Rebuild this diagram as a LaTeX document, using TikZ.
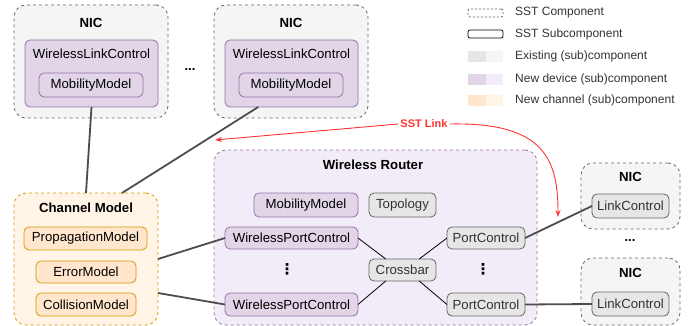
\documentclass[tikz,border=0pt]{standalone}
\usepackage{fontspec}
\setmainfont{Liberation Sans}
\newfontfamily\dejavufont{DejaVu Sans}
\usetikzlibrary{arrows.meta,calc}
\definecolor{cgrayd}{HTML}{666666}
\definecolor{cgrays}{HTML}{E6E6E6}
\definecolor{cgrayc}{HTML}{F5F5F5}
\definecolor{cpurd}{HTML}{9673A6}
\definecolor{cpurs}{HTML}{E1D5E7}
\definecolor{cpurc}{HTML}{F2ECF8}
\definecolor{corad}{HTML}{D79B00}
\definecolor{coras}{HTML}{FFE6CC}
\definecolor{corac}{HTML}{FFF4E6}
\definecolor{ctext}{HTML}{333333}
\definecolor{cline}{HTML}{4D4D4D}
\definecolor{cred}{HTML}{FF3333}
\tikzset{
  box/.style={rounded corners=5pt, line width=0.8pt, inner sep=0pt, outer sep=0pt},
  subgray/.style={box, draw=cgrayd, fill=cgrays},
  subpurp/.style={box, draw=cpurd, fill=cpurs},
  suborange/.style={box, draw=corad, fill=coras},
  compbox/.style={rounded corners=12pt, line width=0.8pt, dash pattern=on 3pt off 3pt, inner sep=0pt, outer sep=0pt},
  compgray/.style={compbox, draw=cgrayd, fill=cgrayc},
  comppurp/.style={compbox, draw=cpurd, fill=cpurc},
  comporange/.style={compbox, draw=corad, fill=corac},
  lbl/.style={inner sep=0pt, font=\fontsize{13.2}{15}\selectfont},
  glbl/.style={lbl, text=ctext},
  ttl/.style={inner sep=0pt, font=\bfseries\fontsize{13.2}{15}\selectfont},
  vdotsnode/.style={inner sep=0pt, font=\dejavufont\bfseries\fontsize{15}{17}\selectfont},
  leg/.style={inner sep=0pt, anchor=west, font=\fontsize{12}{14}\selectfont, text=ctext},
  conn/.style={draw=cline, line width=1.8pt},
  thin/.style={draw=black, line width=0.8pt},
  redarrow/.style={draw=cred, line width=0.9pt, -{Stealth[length=7pt,width=5pt]}},
}
\begin{document}
\begin{tikzpicture}[x=1pt,y=-1pt]
\useasboundingbox (0,0) rectangle (693,326);
% ---------- NIC 1 ----------
\node[compgray, minimum width=154pt, minimum height=113pt] (nic1) at (91,61.5) {};
\node[ttl] (nic1t) at (91,23) {NIC};
\node[subpurp, minimum width=133pt, minimum height=67pt] (wlc1) at (91.5,73.5) {};
\node[lbl] (wlc1t) at (91.5,54) {WirelessLinkControl};
\node[subpurp, minimum width=104pt, minimum height=24pt] (mm1) at (91,85) {};
\node[lbl] (mm1t) at (mm1) {MobilityModel};
\node[ttl] (dots1) at (190,70) {...};
% ---------- NIC 2 ----------
\node[compgray, minimum width=154pt, minimum height=113pt] (nic2) at (291,61.5) {};
\node[ttl] (nic2t) at (291,23) {NIC};
\node[subpurp, minimum width=133pt, minimum height=67pt] (wlc2) at (291.5,73.5) {};
\node[lbl] (wlc2t) at (291.5,54) {WirelessLinkControl};
\node[subpurp, minimum width=104pt, minimum height=24pt] (mm2) at (291,85) {};
\node[lbl] (mm2t) at (mm2) {MobilityModel};
% ---------- Legend ----------
\node[box, rounded corners=2pt, draw=cgrayd, dash pattern=on 2pt off 2pt, minimum width=35pt, minimum height=8pt] (lg1) at (485.5,13) {};
\node[leg] (lg1t) at (515,13) {SST Component};
\node[box, rounded corners=2pt, draw=black, line width=0.7pt, minimum width=35pt, minimum height=8pt] (lg2) at (485.5,34) {};
\node[leg] (lg2t) at (515,34) {SST Subcomponent};
\fill[cgrays] (468,51) rectangle (486,62);
\fill[cgrayc] (486,51) rectangle (503,62);
\node[leg] (lg3t) at (515,56.5) {Existing (sub)component};
\fill[cpurs] (468,74) rectangle (486,85);
\fill[cpurc] (486,74) rectangle (503,85);
\node[leg] (lg4t) at (515,79.5) {New device (sub)component};
\fill[coras] (468,95) rectangle (486,106);
\fill[corac] (486,95) rectangle (503,106);
\node[leg] (lg5t) at (515,100.5) {New channel (sub)component};
% ---------- Channel Model ----------
\node[comporange, minimum width=144pt, minimum height=132pt] (cm) at (86,259) {};
\node[ttl] (cmt) at (86,208) {Channel Model};
\node[suborange, minimum width=123pt, minimum height=23pt] (prop) at (85.5,238.5) {};
\node[lbl] (propt) at (prop) {PropagationModel};
\node[suborange, minimum width=100pt, minimum height=22pt] (err) at (86,272) {};
\node[lbl] (errt) at (err) {ErrorModel};
\node[suborange, minimum width=100pt, minimum height=23pt] (coll) at (86,304.5) {};
\node[lbl] (collt) at (coll) {CollisionModel};
% ---------- Wireless Router ----------
\node[comppurp, minimum width=323pt, minimum height=175pt] (wr) at (375.5,237.5) {};
\node[ttl] (wrt) at (373,165) {Wireless Router};
\node[subpurp, minimum width=104pt, minimum height=24pt] (wmm) at (306,205) {};
\node[lbl] (wmmt) at (wmm) {MobilityModel};
\node[subgray, minimum width=67pt, minimum height=24pt] (topo) at (402.5,205) {};
\node[glbl] (topot) at (topo) {Topology};
\node[subpurp, minimum width=133pt, minimum height=22pt] (wpc1) at (291.5,238) {};
\node[lbl] (wpc1t) at (wpc1) {WirelessPortControl};
\node[subpurp, minimum width=133pt, minimum height=23pt] (wpc2) at (291.5,304.5) {};
\node[lbl] (wpc2t) at (wpc2) {WirelessPortControl};
\node[subgray, minimum width=67pt, minimum height=22pt] (xbar) at (402.5,270) {};
\node[glbl] (xbart) at (xbar) {Crossbar};
\node[subgray, minimum width=78pt, minimum height=22pt] (pc1) at (486,238) {};
\node[glbl] (pc1t) at (pc1) {PortControl};
\node[subgray, minimum width=78pt, minimum height=23pt] (pc2) at (486,304.5) {};
\node[glbl] (pc2t) at (pc2) {PortControl};
\node[vdotsnode] (vd1) at (287,269) {⋮};
\node[vdotsnode] (vd2) at (483,269) {⋮};
% ---------- Right NICs ----------
\node[compgray, minimum width=99pt, minimum height=66pt] (nic3) at (630.5,196) {};
\node[ttl] (nic3t) at (630.5,177) {NIC};
\node[subgray, minimum width=77pt, minimum height=24pt] (lc1) at (630.5,206) {};
\node[glbl] (lc1t) at (lc1) {LinkControl};
\node[ttl] (dots2) at (630,241) {...};
\node[compgray, minimum width=99pt, minimum height=67pt] (nic4) at (630.5,291.5) {};
\node[ttl] (nic4t) at (630.5,273) {NIC};
\node[subgray, minimum width=77pt, minimum height=24pt] (lc2) at (630.5,304) {};
\node[glbl] (lc2t) at (lc2) {LinkControl};
% ---------- Connectors ----------
\draw[conn] (wlc1.south) -- (cm.north);
\draw[conn] ($(wlc2.south west)!0.25!(wlc2.south east)$) -- ($(cm.north west)!0.75!(cm.north east)$);
\draw[conn] (cm.east) -- (wpc1.west);
\draw[conn] ($(cm.east)+(0,34)$) -- (wpc2.west);
\draw[thin] (wpc1.east) -- ($(xbar.north west)!0.25!(xbar.north east)$);
\draw[thin] (wpc2.east) -- ($(xbar.south west)!0.25!(xbar.south east)$);
\draw[thin] (pc1.west) -- ($(xbar.north west)!0.75!(xbar.north east)$);
\draw[thin] (pc2.west) -- ($(xbar.south west)!0.75!(xbar.south east)$);
\draw[conn] (pc1.east) -- (lc1.west);
\draw[conn] (pc2.east) -- (lc2.west);
% ---------- SST Link ----------
\node[inner sep=2pt, text=cred, font=\bfseries\fontsize{11}{13}\selectfont] (link) at (424,124) {SST Link};
\coordinate (la) at (215,140);
\coordinate (lb) at (558,217);
\draw[redarrow] (link.west) -- (la);
\draw[redarrow] (link.east) .. controls (545,122) and (558,160) .. (lb);
\end{tikzpicture}
\end{document}
